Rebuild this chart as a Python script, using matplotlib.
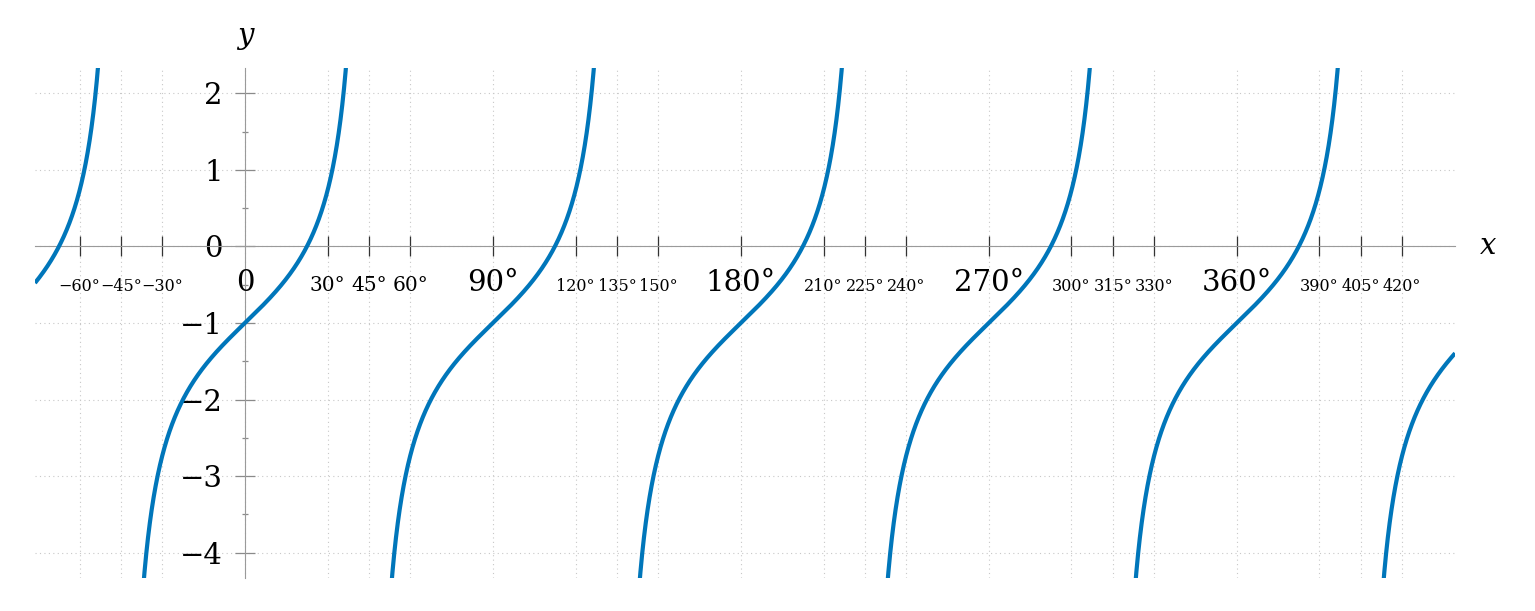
import numpy as np
import matplotlib
matplotlib.use("Agg")
import matplotlib.pyplot as plt

# curve y = tan(freq * x) + shift (y(0) = -1, period 90 deg)
freq = 2.0
shift = -1.0
period_deg = 90.0
first_asymptote_deg = -135.0

xlim = (-76.2, 439.2)
ylim = (-4.33, 2.33)

# x ticks and the size group of each label
xtick_vals = [-60, -45, -30, 0, 30, 45, 60, 90, 120, 135, 150, 180,
              210, 225, 240, 270, 300, 315, 330, 360, 390, 405, 420]
xtick_size = ["s", "s", "s", "l", "m", "m", "m", "l", "s", "s", "s", "l",
              "s", "s", "s", "l", "s", "s", "s", "l", "s", "s", "s"]
ytick_major = [-4, -3, -2, -1, 0, 1, 2]
ytick_minor = [-3.5, -2.5, -1.5, -0.5, 0.5, 1.5]

sizes = {"s": 11.5, "m": 14.5, "l": 21}
line_color = "#0076BA"

plt.rcParams["font.family"] = ["DejaVu Serif"]

fig = plt.figure(figsize=(15.35, 6.11), dpi=100)
ax = fig.add_axes([35 / 1535, 1 - 578 / 611, 1420 / 1535, 510 / 611])

# branches between asymptotes
a = first_asymptote_deg
while a < xlim[1]:
    b = a + period_deg
    xs = np.linspace(a + 0.05, b - 0.05, 2000)
    ys = np.tan(np.radians(freq * xs)) + shift
    keep = (ys > ylim[0] - 3) & (ys < ylim[1] + 3)
    ax.plot(xs[keep], ys[keep], color=line_color, lw=3.0, solid_capstyle="butt", zorder=3)
    a = b

ax.set_xlim(*xlim)
ax.set_ylim(*ylim)

for s in ["top", "right"]:
    ax.spines[s].set_visible(False)
ax.spines["left"].set_position(("data", 0))
ax.spines["bottom"].set_position(("data", 0))
for s in ["left", "bottom"]:
    ax.spines[s].set_color("#9a9a9a")
    ax.spines[s].set_linewidth(0.8)

# x ticks: marks from the axis, labels drawn on a common baseline
ax.set_xticks(xtick_vals)
ax.set_xticklabels([])
ax.tick_params(axis="x", direction="inout", length=14.4, width=0.9, color="#333333")
xt = ax.xaxis.get_major_ticks()
xt[xtick_vals.index(0)].tick1line.set_markersize(0)
for v, g in zip(xtick_vals, xtick_size):
    if v == 0:
        txt = "0"
    elif v < 0:
        txt = "\u2212%d\u00b0" % -v
    else:
        txt = "%d\u00b0" % v
    ax.text(v, -0.585, txt, fontsize=sizes[g], ha="center", va="baseline", zorder=4)

ax.set_yticks(ytick_major)
ax.set_yticklabels([("\u2212%d" % -v if v < 0 else "%d" % v) for v in ytick_major])
ax.set_yticks(ytick_minor, minor=True)
ax.tick_params(axis="y", which="major", direction="inout", length=15, width=0.9,
               color="#8a8a8a", labelsize=21, pad=8.5)
ax.tick_params(axis="y", which="minor", direction="inout", length=5, width=0.9, color="#8a8a8a")

ax.grid(True, which="major", color="#c8c8c8", linestyle=(0, (1, 3)), linewidth=0.8)
ax.set_axisbelow(True)

ax.text(xlim[1] + 9, 0, "x", fontsize=21, fontstyle="italic", va="center", ha="left", clip_on=False)
ax.text(0, ylim[1] + 0.24, "y", fontsize=21, fontstyle="italic", va="bottom", ha="center", clip_on=False)

fig.savefig("out.png", dpi=100)
